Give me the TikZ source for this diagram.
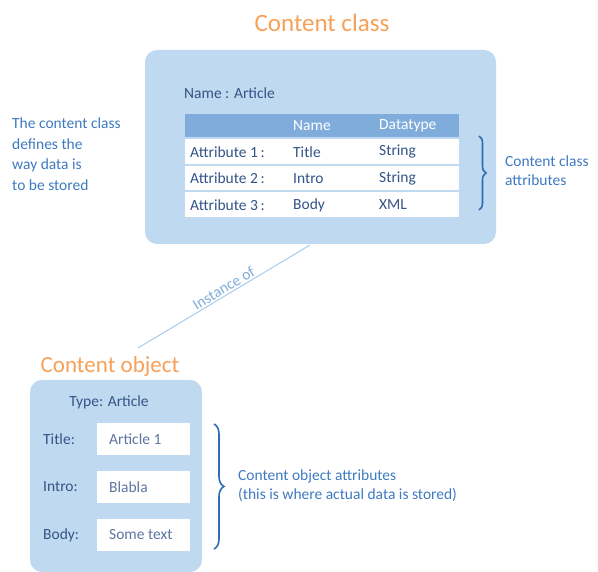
\documentclass[tikz,border=0pt]{standalone}
\usepackage{fontspec}
\setmainfont{Carlito}
\usetikzlibrary{calc, decorations.pathreplacing}
\definecolor{boxblue}{RGB}{191,217,240}
\definecolor{headblue}{RGB}{127,172,219}
\definecolor{navy}{RGB}{52,84,135}
\definecolor{sideblue}{RGB}{62,122,192}
\definecolor{bracecol}{RGB}{46,108,180}
\definecolor{titleorange}{RGB}{246,160,88}
\definecolor{linkblue}{RGB}{168,203,236}
\tikzset{
  title/.style={text=titleorange, font=\fontsize{25}{28}\selectfont},
  label/.style={text=navy, font=\fontsize{15.5}{18}\selectfont, anchor=west, inner sep=0pt},
  side/.style={text=sideblue, font=\fontsize{15.5}{19}\selectfont, anchor=west, inner sep=0pt, align=left},
  bigbox/.style={fill=boxblue, rounded corners=12pt, inner sep=0pt},
  field/.style={fill=white, minimum width=93pt, minimum height=32pt, inner sep=0pt},
  brace/.style={draw=bracecol, line width=1.6pt, decorate, decoration={brace, amplitude=#1}}
}

\begin{document}
\begin{tikzpicture}[x=1pt, y=-1pt]
  \useasboundingbox (0,0) rectangle (598,572);

  % Content class box
  \node[title] (classtitle) at (322,23) {Content class};
  \node[bigbox, minimum width=351pt, minimum height=194pt] (classbox) at (320.5,147) {};
  \node[label] (classname) at (184,93) {Name : Article};

  % Table
  \fill[headblue] (185,114) rectangle (459,137);
  \node[label, text=white] (hname) at (293,125.5) {Name};
  \node[label, text=white] (htype) at (379,125.5) {Datatype};
  \foreach \i/\n/\t [count=\k] in {1/Title/String, 2/Intro/String, 3/Body/XML} {
    \fill[white] (185,{113+\k*26.5}) rectangle (459,{137.5+\k*26.5});
    \node[label] (attr\k) at (190,{125.5+\k*26.5}) {Attribute \i\,:};
    \node[label] (name\k) at (293,{125.5+\k*26.5}) {\n};
    \node[label] (type\k) at (379,{125.5+\k*26.5}) {\t};
  }

  % Class attributes brace
  \coordinate (cbtop) at (479,136);
  \coordinate (cbbot) at (479,210);
  \draw[brace=7pt] (cbtop) -- (cbbot);
  \node[side] (classattr) at (505,171) {Content class\\attributes};

  % Left description
  \node[side, font=\fontsize{15.5}{20.5}\selectfont] (classdesc) at (12,154) {The content class\\defines the\\way data is\\to be stored};

  % Instance link
  \coordinate (linkfrom) at (138,348);
  \coordinate (linkto) at (310,245);
  \draw[linkblue, line width=1pt] (linkfrom) -- node[sloped, above, pos=0.52, text=linkblue!60!sideblue, font=\fontsize{15.5}{18}\selectfont, inner sep=1.5pt] (instance) {Instance of} (linkto);

  % Content object box
  \node[title, font=\fontsize{23}{26}\selectfont] (objtitle) at (110,366) {Content object};
  \node[bigbox, minimum width=172pt, minimum height=192pt] (objbox) at (116,476) {};
  \node[label, anchor=center] (objtype) at (109,402) {Type: Article};
  \foreach \f/\v [count=\k] in {Title/Article 1, Intro/Blabla, Body/Some text} {
    \node[label] (flabel\k) at (43,{391+\k*48}) {\f:};
    \node[field] (field\k) at (143.5,{391+\k*48}) {};
    \node[label, text=navy!80] (fvalue\k) at (109,{391+\k*48}) {\v};
  }

  % Object attributes brace
  \coordinate (obtop) at (214,424);
  \coordinate (obbot) at (214,549);
  \draw[brace=10pt] (obtop) -- (obbot);
  \node[side] (objattr) at (238,486) {Content object attributes\\(this is where actual data is stored)};
\end{tikzpicture}
\end{document}
